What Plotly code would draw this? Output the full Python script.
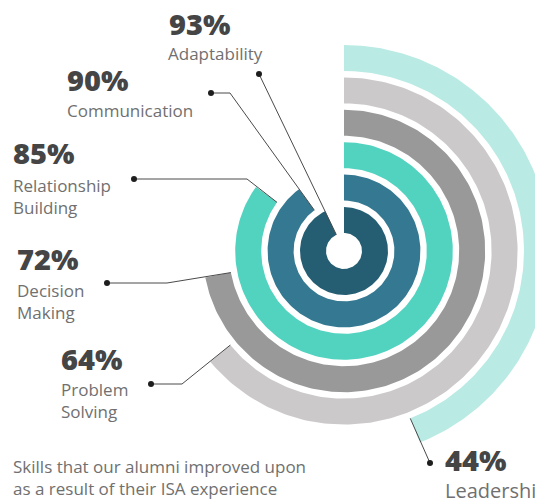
import numpy as np
import plotly.graph_objects as go

# data
skills = ['Adaptability', 'Communication', 'Relationship<br>Building',
          'Decision<br>Making', 'Problem<br>Solving', 'Leadership']
values = [93, 90, 85, 72, 64, 44]
ring_colors = ['#255e73', '#347891', '#52d3c0', '#999999', '#ccc9ca', '#b9ebe4']

caption = 'Skills that our alumni improved upon<br>as a result of their ISA experience'

# geometry (page pixel units, y grows downward)
# the page body has an 8px margin, so the figure covers pixels 8..543 / 8..502
OFF = 8
W, H = 543, 502
CX, CY = 344, 251
R0, STEP, THICK = 18, 32.4, 26

# label layout: percent text position, name position, leader line points (dot first)
label_pos = [
    dict(pct=(167, 23), name=(166, 53), line=[(259, 74)]),
    dict(pct=(65, 79), name=(65, 110), line=[(211, 93), (230, 93)]),
    dict(pct=(11, 152), name=(11, 196), line=[(134, 179), (247, 179)]),
    dict(pct=(15, 258), name=(15, 301), line=[(107, 283), (167, 283)]),
    dict(pct=(59, 358), name=(59, 400), line=[(151, 384), (182, 384)]),
    dict(pct=(443, 459), name=(443, 490), line=[(430, 463)]),
]

PCT_FONT = dict(family='Open Sans', size=29, color='#454545', weight=800)
NAME_FONT = dict(family='Open Sans', size=17, color='#707070', weight=400)
# the last label is drawn a bit larger in the original
LAST_NAME_FONT = dict(NAME_FONT, size=20)


def arc_polygon(value, r_in, r_out):
    a = np.radians(np.linspace(0, value * 3.6, 200))
    xs = np.concatenate([CX + r_out * np.sin(a), CX + r_in * np.sin(a[::-1])])
    ys = np.concatenate([CY - r_out * np.cos(a), CY - r_in * np.cos(a[::-1])])
    return np.append(xs, xs[0]), np.append(ys, ys[0])


fig = go.Figure()

for i, (v, c) in enumerate(zip(values, ring_colors)):
    r_in = R0 + STEP * i
    xs, ys = arc_polygon(v, r_in, r_in + THICK)
    fig.add_trace(go.Scatter(
        x=xs, y=ys, mode='lines', fill='toself', fillcolor=c,
        line=dict(width=0, color=c), hoverinfo='skip', showlegend=False
    ))

annotations = []
for i, (name, v) in enumerate(zip(skills, values)):
    pos = label_pos[i]
    # leader line ends at the inner corner of the ring end
    r_in = R0 + STEP * i
    a = np.radians(v * 3.6)
    end = (CX + r_in * np.sin(a), CY - r_in * np.cos(a))
    pts = pos['line'] + [end]
    fig.add_trace(go.Scatter(
        x=[p[0] for p in pts], y=[p[1] for p in pts], mode='lines',
        line=dict(color='#4a4a4a', width=1), hoverinfo='skip', showlegend=False
    ))
    fig.add_trace(go.Scatter(
        x=[pts[0][0]], y=[pts[0][1]], mode='markers',
        marker=dict(color='#1e1e1e', size=6), hoverinfo='skip', showlegend=False
    ))
    annotations.append(dict(
        x=pos['pct'][0], y=pos['pct'][1], text=f'{v}%', showarrow=False,
        xanchor='left', yanchor='middle', font=PCT_FONT
    ))
    annotations.append(dict(
        x=pos['name'][0], y=pos['name'][1], text=name, showarrow=False,
        xanchor='left', yanchor='middle', align='left',
        font=LAST_NAME_FONT if i == len(skills) - 1 else NAME_FONT
    ))

annotations.append(dict(
    x=11, y=477, text=caption, showarrow=False, xanchor='left',
    yanchor='middle', align='left', font=NAME_FONT
))

fig.update_layout(
    width=W - OFF, height=H - OFF,
    margin=dict(l=0, r=0, t=0, b=0),
    paper_bgcolor='white', plot_bgcolor='white',
    xaxis=dict(range=[OFF, W], visible=False, fixedrange=True),
    yaxis=dict(range=[H, OFF], visible=False, fixedrange=True),
    annotations=annotations,
    showlegend=False
)

fig.write_html("out.html")
